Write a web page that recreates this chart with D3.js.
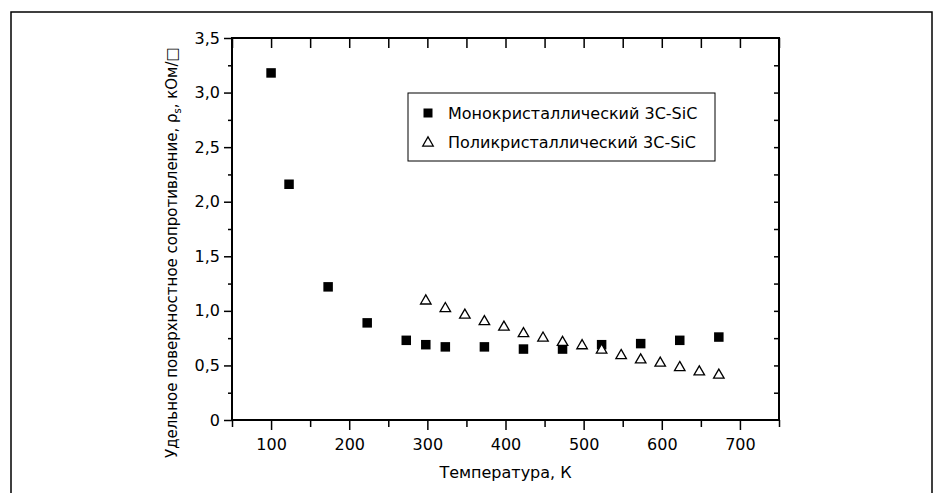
<!DOCTYPE html>
<html>
<head>
<meta charset="utf-8">
<script src="https://cdn.jsdelivr.net/npm/d3@7"></script>
<style>
    body { margin: 0; background: #fff; }
    svg { display: block; }
    text { font-family: "DejaVu Sans", sans-serif; fill: #000; }
</style>
</head>
<body>
<div class="grafic"></div>
<script>

// монокристаллический 3C-SiC
let monoT = [100, 123, 173, 223, 273, 298, 323, 373, 423, 473, 523, 573, 623, 673];
let monoR = [3.18, 2.16, 1.22, 0.89, 0.73, 0.69, 0.67, 0.67, 0.65, 0.65, 0.69, 0.70, 0.73, 0.76];

// поликристаллический 3C-SiC
let polyT = [298, 323, 348, 373, 398, 423, 448, 473, 498, 523, 548, 573, 598, 623, 648, 673];
let polyR = [1.10, 1.03, 0.97, 0.91, 0.86, 0.80, 0.76, 0.72, 0.69, 0.65, 0.60, 0.56, 0.53, 0.49, 0.45, 0.42];

let xMajor = [100, 200, 300, 400, 500, 600, 700];
let xMinor = [50, 150, 250, 350, 450, 550, 650, 750];
let yMajor = [0, 0.5, 1.0, 1.5, 2.0, 2.5, 3.0, 3.5];
let yMinor = [0.25, 0.75, 1.25, 1.75, 2.25, 2.75, 3.25];

let legendNames = ["Монокристаллический 3С-SiC", "Поликристаллический 3С-SiC"];

let w = 936, h = 493;
let pL = 232, pR = 779, pT = 38, pB = 420;

let svg = d3.select(".grafic")
    .append("svg")
    .attr("width", w)
    .attr("height", h);

// внешняя рамка
svg.append("rect")
    .attr("x", 11).attr("y", 12)
    .attr("width", 921).attr("height", 520)
    .attr("fill", "none")
    .attr("stroke", "#000")
    .attr("stroke-width", 1.5);

let xScale = d3.scaleLinear().domain([50, 750]).range([pL, pR]);
let yScale = d3.scaleLinear().domain([0, 3.5]).range([pB, pT]);

let fmt = function (d) {
    return d === 0 ? "0" : d.toFixed(1).replace(".", ",");
};

let styleAxis = function (g, fontSize) {
    g.select(".domain").remove();
    g.selectAll(".tick line").attr("stroke", "#000").attr("stroke-width", 1.5);
    g.selectAll(".tick text")
        .style("font-family", "'DejaVu Sans', sans-serif")
        .style("font-size", fontSize + "px")
        .attr("fill", "#000");
};

// нижняя ось
svg.append("g")
    .attr("transform", "translate(0," + pB + ")")
    .call(d3.axisBottom(xScale).tickValues(xMajor).tickSize(10).tickPadding(9).tickFormat(d3.format("d")))
    .call(g => styleAxis(g, 16));
svg.append("g")
    .attr("transform", "translate(0," + pB + ")")
    .call(d3.axisBottom(xScale).tickValues(xMinor).tickSize(7).tickFormat(""))
    .call(g => styleAxis(g, 16));

// верхняя ось (засечки внутрь)
svg.append("g")
    .attr("transform", "translate(0," + pT + ")")
    .call(d3.axisTop(xScale).tickValues(xMajor.concat(xMinor)).tickSize(-10).tickFormat(""))
    .call(g => styleAxis(g, 16));

// левая ось
svg.append("g")
    .attr("transform", "translate(" + pL + ",0)")
    .call(d3.axisLeft(yScale).tickValues(yMajor).tickSize(8).tickPadding(4).tickFormat(fmt))
    .call(g => styleAxis(g, 16));
svg.append("g")
    .attr("transform", "translate(" + pL + ",0)")
    .call(d3.axisLeft(yScale).tickValues(yMinor).tickSize(4).tickFormat(""))
    .call(g => styleAxis(g, 16));

// правая ось (засечки внутрь)
svg.append("g")
    .attr("transform", "translate(" + pR + ",0)")
    .call(d3.axisRight(yScale).tickValues(yMajor.concat(yMinor).filter(d => d > 0 && d < 3.5)).tickSize(-5).tickFormat(""))
    .call(g => styleAxis(g, 16));

// рамка графика
svg.append("rect")
    .attr("x", pL).attr("y", pT)
    .attr("width", pR - pL).attr("height", pB - pT)
    .attr("fill", "none")
    .attr("stroke", "#000")
    .attr("stroke-width", 2);

// подписи осей
svg.append("text")
    .attr("x", (pL + pR) / 2)
    .attr("y", 478)
    .attr("text-anchor", "middle")
    .style("font-size", "16px")
    .text("Температура, К");

let yTitle = svg.append("text")
    .attr("transform", "translate(177,458) rotate(-90)")
    .attr("text-anchor", "start")
    .style("font-size", "15px");
yTitle.append("tspan").text("Удельное поверхностное сопротивление, ρ");
yTitle.append("tspan").attr("dy", 4).style("font-size", "10px").text("s");
yTitle.append("tspan").attr("dy", -4).text(", кОм/□");

// точки
let sq = 9.5;
svg.append("g")
    .selectAll("rect")
    .data(monoT.map((t, i) => [t, monoR[i]]))
    .enter()
    .append("rect")
    .attr("x", d => xScale(d[0]) - sq / 2)
    .attr("y", d => yScale(d[1]) - sq / 2)
    .attr("width", sq)
    .attr("height", sq)
    .attr("fill", "#000");

let tri = d3.symbol().type(d3.symbolTriangle).size(48);
svg.append("g")
    .selectAll("path")
    .data(polyT.map((t, i) => [t, polyR[i]]))
    .enter()
    .append("path")
    .attr("d", tri)
    .attr("transform", d => "translate(" + xScale(d[0]) + "," + (yScale(d[1]) + 1) + ")")
    .attr("fill", "#fff")
    .attr("stroke", "#000")
    .attr("stroke-width", 1.3);

// легенда
let legend = svg.append("g");
legend.append("rect")
    .attr("x", 408).attr("y", 93)
    .attr("width", 307).attr("height", 68)
    .attr("fill", "#fff")
    .attr("stroke", "#000")
    .attr("stroke-width", 1);

legend.append("rect")
    .attr("x", 428 - 4.5).attr("y", 113 - 4.5)
    .attr("width", 9).attr("height", 9)
    .attr("fill", "#000");
legend.append("path")
    .attr("d", tri)
    .attr("transform", "translate(428,143)")
    .attr("fill", "#fff")
    .attr("stroke", "#000")
    .attr("stroke-width", 1.3);

legend.selectAll("text")
    .data(legendNames)
    .enter()
    .append("text")
    .attr("x", 448)
    .attr("y", (d, i) => 119 + i * 28.5)
    .style("font-size", "16px")
    .text(d => d);

</script>
</body>
</html>
